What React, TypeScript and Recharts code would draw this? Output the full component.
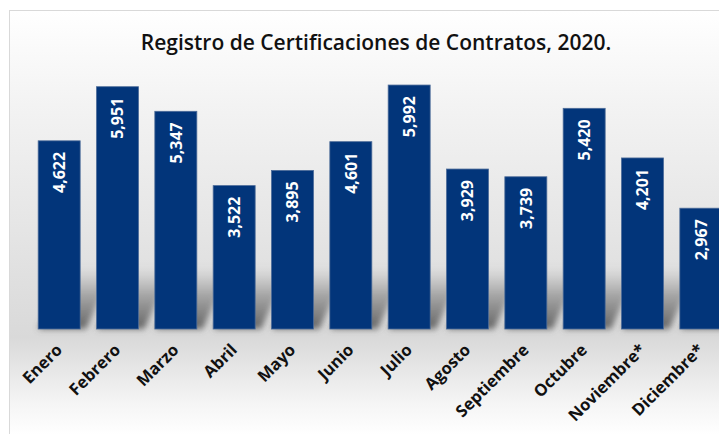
import { BarChart, Bar, XAxis, YAxis, LabelList } from "recharts";

const months = ["Enero", "Febrero", "Marzo", "Abril", "Mayo", "Junio", "Julio", "Agosto", "Septiembre", "Octubre", "Noviembre*", "Diciembre*"];
const certificaciones = [4622, 5951, 5347, 3522, 3895, 4601, 5992, 3929, 3739, 5420, 4201, 2967];

const data = months.map((m, i) => ({ mes: m, valor: certificaciones[i] }));

const FONT = "'Open Sans', Lato, sans-serif";
const BAR = "#02357a";

// bar with a skewed soft shadow falling to the right
const ShadowBar = (props: any) => {
  const { x, y, width, height } = props;
  const base = y + height;
  const h = 62;
  const dx = 34;
  return (
    <g>
      <polygon
        points={`${x},${base} ${x + width + 6},${base} ${x + width + dx},${base - h} ${x + dx},${base - h}`}
        fill="url(#shadowGrad)"
        filter="url(#shadowBlur)"
      />
      <rect x={x} y={y} width={width} height={height} fill={BAR} stroke="#4d6c99" strokeWidth={0.8} />
    </g>
  );
};

const ValueLabel = (props: any) => {
  const { x, y, width, value } = props;
  const cx = x + width / 2;
  const ty = y + 11;
  return (
    <text
      x={cx}
      y={ty}
      transform={`rotate(-90, ${cx}, ${ty})`}
      textAnchor="end"
      dominantBaseline="central"
      fill="#fff"
      fontFamily={FONT}
      fontWeight={700}
      fontSize={16}
    >
      {value.toLocaleString("en-US")}
    </text>
  );
};

const MonthTick = (props: any) => {
  const { x, y, payload } = props;
  const tx = x + 4;
  const ty = y + 14;
  return (
    <text
      x={tx}
      y={ty}
      transform={`rotate(-45, ${tx}, ${ty})`}
      textAnchor="end"
      fill="#111"
      fontFamily={FONT}
      fontWeight={700}
      fontSize={16.5}
    >
      {payload.value}
    </text>
  );
};

export default function App() {
  return (
    <div
      style={{
        position: "relative",
        margin: "2px 0 0 1px",
        width: 740,
        height: 424,
        border: "1px solid #d9d9d9",
        background: "linear-gradient(to bottom, #ffffff 0%, #f3f3f3 22%, #d9d9d9 77%, #f4f4f4 92%, #ffffff 100%)",
      }}
    >
      <svg width={0} height={0} style={{ position: "absolute" }}>
        <defs>
          <linearGradient id="shadowGrad" x1="0" y1="1" x2="0" y2="0">
            <stop offset="0%" stopColor="#555555" stopOpacity={0.9} />
            <stop offset="55%" stopColor="#777777" stopOpacity={0.55} />
            <stop offset="100%" stopColor="#999999" stopOpacity={0} />
          </linearGradient>
          <filter id="shadowBlur" x="-50%" y="-50%" width="200%" height="200%">
            <feGaussianBlur stdDeviation="3" />
          </filter>
        </defs>
      </svg>
      <div
        style={{
          position: "absolute",
          left: 0,
          top: 17,
          width: 732,
          textAlign: "center",
          fontFamily: FONT,
          fontWeight: 600,
          fontSize: 21,
          color: "#111",
        }}
      >
        Registro de Certificaciones de Contratos, 2020.
      </div>
      <BarChart
        width={740}
        height={424}
        data={data}
        margin={{ top: 33, right: 20, bottom: 0, left: 20 }}
        barCategoryGap="14%"
      >
        <XAxis dataKey="mes" axisLine={false} tickLine={false} interval={0} height={106} tick={<MonthTick />} />
        <YAxis hide domain={[0, 7000]} />
        <Bar dataKey="valor" shape={<ShadowBar />} isAnimationActive={false}>
          <LabelList dataKey="valor" content={<ValueLabel />} />
        </Bar>
      </BarChart>
    </div>
  );
}
